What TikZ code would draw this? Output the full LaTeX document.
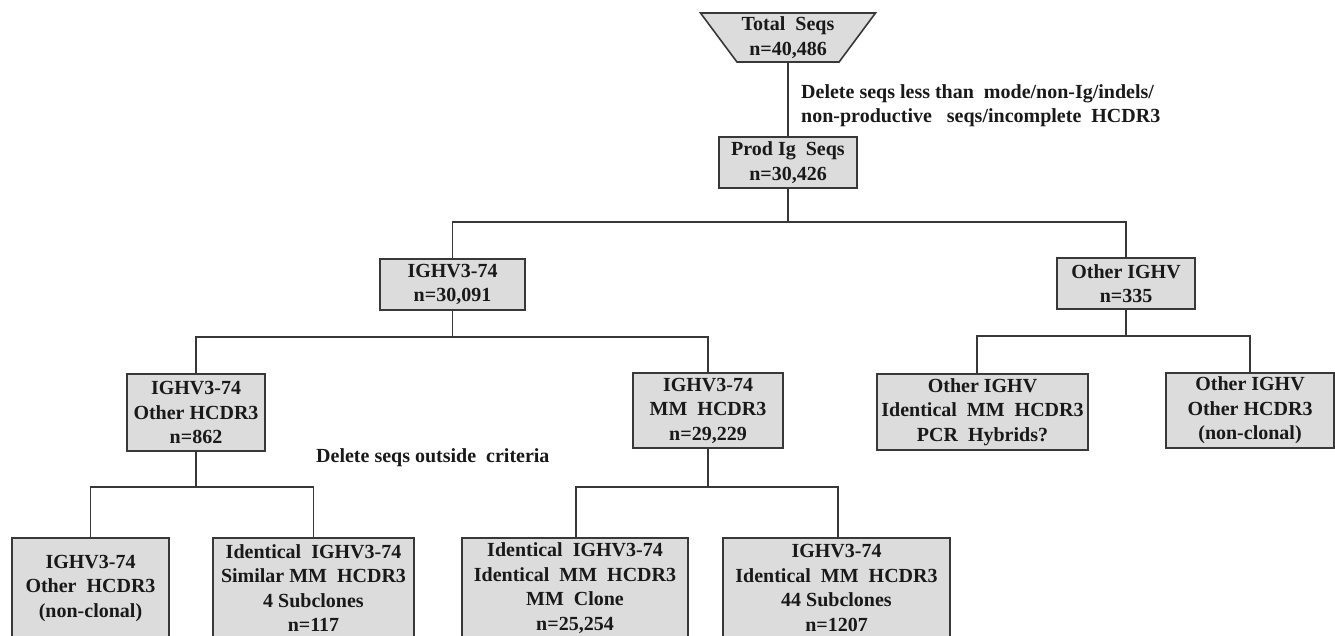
\documentclass[tikz,border=0pt]{standalone}
\usepackage{fontspec}
\setmainfont{Liberation Serif}
\usetikzlibrary{shapes.geometric,backgrounds}
\definecolor{boxfill}{HTML}{DCDCDC}
\definecolor{boxline}{HTML}{383838}
\begin{document}
\begin{tikzpicture}[x=1pt,y=-1pt,
  every node/.style={font=\bfseries\fontsize{20}{24.5}\selectfont, text=black!90},
  box/.style={draw=boxline, fill=boxfill, line width=1.6pt, align=center, inner sep=0pt, minimum width=#1},
  box/.default=140,
  conn/.style={draw=boxline, line width=1.6pt},
  note/.style={anchor=west, align=left, inner sep=0pt}]
\path[use as bounding box, clip] (0,0) rectangle (1335,635);

\node[trapezium, trapezium stretches body, shape border rotate=180, trapezium angle=48.7,
      minimum width=175, minimum height=49, draw=boxline, fill=boxfill, line width=1.6pt,
      align=center, inner sep=0pt] (total) at (788,37.5) {Total~ Seqs\\n=40,486};
\node[box=138, minimum height=51] (prod) at (788,162.5) {Prod Ig~ Seqs\\n=30,426};
\node[box=145, minimum height=51] (ighv) at (452.5,284.5) {IGHV3-74\\n=30,091};
\node[box=138, minimum height=51] (other) at (1126,283.5) {Other IGHV\\n=335};
\node[box=138, minimum height=77] (ighvo) at (196,412.5) {IGHV3-74\\Other HCDR3\\n=862};
\node[box=150, minimum height=75] (ighvmm) at (708,410.5) {IGHV3-74\\MM~ HCDR3\\n=29,229};
\node[box=211, minimum height=76] (oth1) at (982.5,412) {Other IGHV\\Identical~ MM~ HCDR3\\PCR~ Hybrids?};
\node[box=168, minimum height=75] (oth2) at (1250,410.5) {Other IGHV\\Other HCDR3\\(non-clonal)};
\node[box=157, minimum height=100] (b1) at (90.5,588) {IGHV3-74\\Other~ HCDR3\\(non-clonal)};
\node[box=201, minimum height=100] (b2) at (313.5,588) {Identical~ IGHV3-74\\Similar MM~ HCDR3\\4 Subclones\\n=117};
\node[box=226, minimum height=100] (b3) at (575,588) {Identical~ IGHV3-74\\Identical~ MM~ HCDR3\\MM~ Clone\\n=25,254};
\node[box=227, minimum height=100] (b4) at (836.5,588) {IGHV3-74\\Identical~ MM~ HCDR3\\44 Subclones\\n=1207};

\node[note] (del1) at (801,105.5) {Delete seqs less than~ mode/non-Ig/indels/\\non-productive~~ seqs/incomplete~ HCDR3};
\node[note] (del2) at (316,458) {Delete seqs outside~ criteria};

\begin{scope}[on background layer]
\draw[conn] (total.center) -- (prod.center);
\draw[conn] (prod.south) -- (prod.south |- 0,222) -| (ighv.north);
\draw[conn] (prod.south |- 0,222) -| (other.north);
\draw[conn] (ighv.south) -- (ighv.south |- 0,337) -| (ighvo.north);
\draw[conn] (ighv.south |- 0,337) -| (ighvmm.north);
\draw[conn] (other.south) -- (other.south |- 0,336) -| ([xshift=-5.5]oth1.north);
\draw[conn] (other.south |- 0,336) -| (oth2.north);
\draw[conn] (ighvo.south) -- (ighvo.south |- 0,487) -| (b1.north);
\draw[conn] (ighvo.south |- 0,487) -| (b2.north);
\draw[conn] (ighvmm.south) -- (ighvmm.south |- 0,487) -| ([xshift=1]b3.north);
\draw[conn] (ighvmm.south |- 0,487) -| ([xshift=1.5]b4.north);
\end{scope}
\end{tikzpicture}
\end{document}
